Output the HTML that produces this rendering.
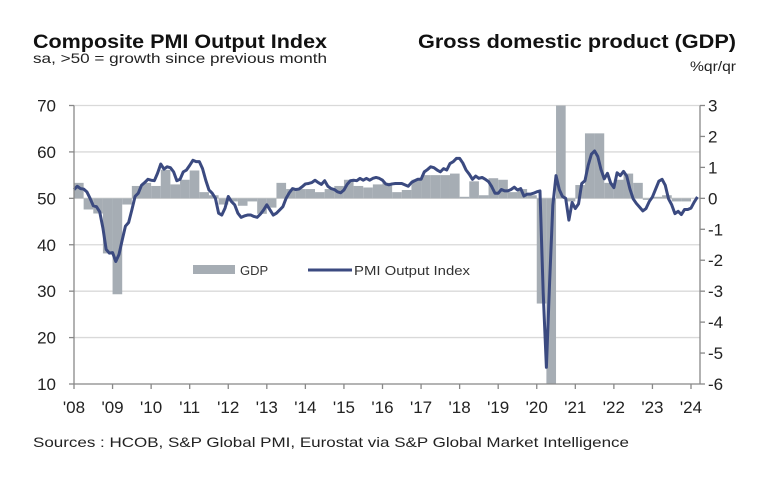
<!DOCTYPE html>
<html><head><meta charset="utf-8"><style>
html,body{margin:0;padding:0;background:#fff;}
svg{display:block;font-family:"Liberation Sans",Arial,sans-serif;}
</style></head><body>
<svg id="chart" width="776" height="483" viewBox="0 0 776 483">
<text x="33" y="48" font-size="19" font-weight="bold" fill="#111" textLength="294" lengthAdjust="spacingAndGlyphs">Composite PMI Output Index</text>
<text x="33" y="63" font-size="14" fill="#222" textLength="294" lengthAdjust="spacingAndGlyphs">sa, &gt;50 = growth  since previous  month</text>
<text x="736" y="48" font-size="19" font-weight="bold" fill="#111" text-anchor="end" textLength="318" lengthAdjust="spacingAndGlyphs">Gross domestic product (GDP)</text>
<text x="736" y="71" font-size="14" fill="#222" text-anchor="end" textLength="46" lengthAdjust="spacingAndGlyphs">%qr/qr</text>
<g id="grid"></g>
<g id="bars"></g>
<g id="line"></g>
<g id="axes"></g>
<g>
<rect x="193" y="265" width="42" height="9" fill="#a6adb4"/>
<text x="240" y="275" font-size="13" fill="#333">GDP</text>
<line x1="308" y1="270" x2="352" y2="270" stroke="#3b4a80" stroke-width="3"/>
<text x="354" y="275" font-size="13" fill="#333" textLength="116" lengthAdjust="spacingAndGlyphs">PMI Output Index</text>
</g>
<text x="33" y="447" font-size="14" fill="#222" textLength="596" lengthAdjust="spacingAndGlyphs">Sources : HCOB, S&amp;P Global PMI, Eurostat via S&amp;P Global Market Intelligence</text>
</svg>
<script>
const leftTicks = [10,20,30,40,50,60,70];
const rightTicks = [-6,-5,-4,-3,-2,-1,0,1,2,3];
const yearLabels = ["'08","'09","'10","'11","'12","'13","'14","'15","'16","'17","'18","'19","'20","'21","'22","'23","'24"];
const gdp = [0.5,-0.36,-0.49,-1.78,-3.1,-0.2,0.4,0.5,0.4,0.92,0.45,0.6,0.9,0.2,0.1,-0.2,-0.1,-0.24,-0.1,-0.5,-0.3,0.5,0.3,0.3,0.3,0.2,0.3,0.4,0.6,0.4,0.35,0.45,0.5,0.2,0.27,0.6,0.75,0.75,0.75,0.8,0.05,0.55,0.1,0.65,0.6,0.2,0.3,0.1,-3.4,-11.5,12.5,-0.1,0.43,2.1,2.1,0.5,0.6,0.8,0.5,-0.05,0.05,0.1,-0.1,-0.1,0.0];
const pmi = [51.9,52.6,52.1,52,51.4,50,48.4,48.2,47.1,43.6,39,38.2,
38.3,36.4,37.9,41,44,44.8,47.5,50.4,51.1,52.8,53.4,54.1,
53.9,53.8,55.4,57.4,56.3,56.8,56.6,55.7,53.8,54.1,55.7,56.1,
57.1,58.2,57.9,57.9,56.4,53.9,51.8,51.1,50,46.8,46.4,47.9,
50.4,49.3,48.6,46.8,45.9,46.2,46.4,46.4,46.1,45.9,46.6,47.5,
48.6,47.5,46.4,46.8,47.5,48.2,50,51.2,52.1,51.9,52,52.5,
53.1,53.2,53.4,53.9,53.4,53,53.8,52.6,52.1,51.9,51.4,51.2,
51.8,53,53.8,53.9,53.8,54.3,53.9,54.3,53.9,54.3,54.5,54.3,
53.9,53.1,52.9,53.1,53.2,53.2,53.2,52.9,52.6,53.4,53.8,54.1,
54.1,55.7,56.2,56.8,56.6,56.1,55.7,56.4,56.1,57.5,57.9,58.6,
58.6,57.6,56.1,55.2,54.1,54.8,54.3,54.5,54.1,53.6,52.5,51.1,
51.1,51.9,51.6,51.6,51.9,52.4,51.8,52.1,50.5,50.9,50.9,51.1,
51.4,51.6,29.7,13.6,31.9,48.5,54.9,51.9,50.4,50,45.3,49.1,
47.8,48.8,53.2,53.8,57.1,59.5,60.2,59,56.2,54.2,55.4,53.3,
52.3,55.5,54.9,55.8,54.8,52,49.9,48.9,48.1,47.3,47.8,49.3,
50.3,52,53.7,54.1,52.8,49.9,48.6,46.7,47.2,46.5,47.6,47.6,
47.9,49.2,50.3];
const NS="http://www.w3.org/2000/svg";
const X0=74,X1=700,YT=105.5,YB=384,MW=(X1-X0)/194.8;
function xM(m){return X0+m*MW;}
function yL(v){return YB-(v-10)/60*(YB-YT);}
function yR(v){return YB-(v+6)/9*(YB-YT);}
function mk(tag,attrs,parent){const e=document.createElementNS(NS,tag);for(const k in attrs)e.setAttribute(k,attrs[k]);parent.appendChild(e);return e;}
const grid=document.getElementById('grid'),bars=document.getElementById('bars'),line=document.getElementById('line'),axes=document.getElementById('axes');
leftTicks.forEach(t=>{
  if(t>10){const g=mk('line',{x1:X0,x2:X1,y1:yL(t),y2:yL(t),stroke:'#d9d9d9','stroke-width':1.3},grid);
  
  }
  mk('line',{x1:X0-5,x2:X0,y1:yL(t),y2:yL(t),stroke:'#888','stroke-width':1.3},axes);
  const tx=mk('text',{x:56,y:yL(t)+6,'font-size':17,'text-anchor':'end',fill:'#222'},axes);
  tx.textContent=t;
  
  
});
rightTicks.forEach(t=>{
  mk('line',{x1:X1,x2:X1+5,y1:yR(t),y2:yR(t),stroke:'#888','stroke-width':1.3},axes);
  const tx=mk('text',{x:708,y:yR(t)+6,'font-size':17,fill:'#222'},axes);
  tx.textContent=t;
  
  
});
const z=yR(0);
gdp.forEach((v,i)=>{
  const c=Math.max(-6,Math.min(3,v));
  const y1=yR(c);
  const r=mk('rect',{x:xM(i*3),width:MW*3,y:Math.min(y1,z),height:Math.abs(y1-z),fill:'#a6adb4'},bars);
  
  
});
let d='';
pmi.forEach((v,i)=>{d+=(i?'L':'M')+xM(i).toFixed(2)+','+yL(v).toFixed(2);});
const p=mk('path',{d:d,fill:'none',stroke:'#3b4a80','stroke-width':3,'stroke-linejoin':'round'},line);


mk('line',{x1:X0,x2:X0,y1:YT,y2:YB,stroke:'#888','stroke-width':1.3},axes);
mk('line',{x1:X1,x2:X1,y1:YT,y2:YB,stroke:'#888','stroke-width':1.3},axes);
mk('line',{x1:X0,x2:X1,y1:YB,y2:YB,stroke:'#888','stroke-width':1.3},axes);
yearLabels.forEach((lab,i)=>{
  const x=xM(i*12);
  mk('line',{x1:x,x2:x,y1:YB,y2:YB+5,stroke:'#888','stroke-width':1.3},axes);
  const tx=mk('text',{x:x,y:YB+29,'font-size':17,'text-anchor':'middle',fill:'#222'},axes);
  tx.textContent=lab;
  
  
});
</script>
</body></html>
